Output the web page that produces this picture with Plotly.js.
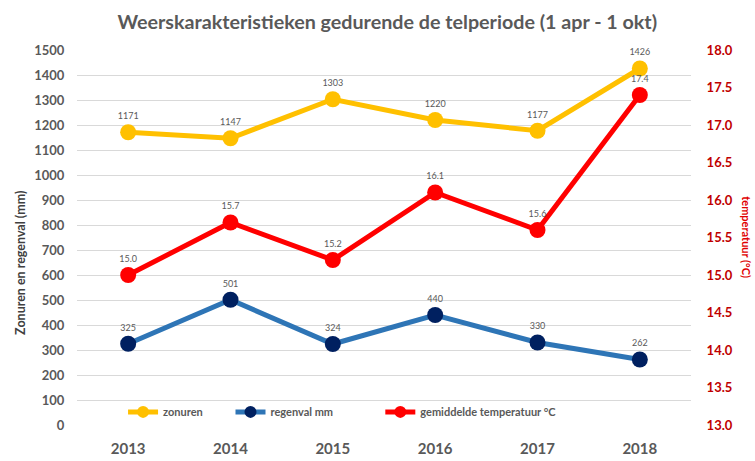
<!DOCTYPE html>
<html>
<head>
<meta charset="utf-8">
<script src="https://cdn.plot.ly/plotly-3.0.1.min.js"></script>
<style>
html,body{margin:0;padding:0;background:#fff;}
#chart{width:755px;height:461px;}
</style>
</head>
<body>
<div id="chart"></div>
<script>
const years = ['2013', '2014', '2015', '2016', '2017', '2018'];
const zonuren = [1171, 1147, 1303, 1220, 1177, 1426];
const regenval = [325, 501, 324, 440, 330, 262];
const temperatuur = [15.0, 15.7, 15.2, 16.1, 15.6, 17.4];
const leftTicks = [0, 100, 200, 300, 400, 500, 600, 700, 800, 900, 1000, 1100, 1200, 1300, 1400, 1500];
const rightTicks = [13.0, 13.5, 14.0, 14.5, 15.0, 15.5, 16.0, 16.5, 17.0, 17.5, 18.0];

const FONT = 'Lato, "Open Sans", sans-serif';
const GRAY = '#595959';
const labelFont = {family: FONT, size: 9, color: GRAY};

const traces = [
  {
    x: years, y: zonuren, name: 'zonuren', type: 'scatter', mode: 'lines+markers+text',
    line: {color: '#FFC000', width: 5}, marker: {color: '#FFC000', size: 16},
    text: zonuren.map(String), textposition: 'top center', textfont: labelFont,
    cliponaxis: false, legend: 'legend'
  },
  {
    x: years, y: regenval, name: 'regenval mm', type: 'scatter', mode: 'lines+markers+text',
    line: {color: '#2E75B6', width: 5}, marker: {color: '#002060', size: 16},
    text: regenval.map(String), textposition: 'top center', textfont: labelFont,
    cliponaxis: false, legend: 'legend2'
  },
  {
    x: years, y: temperatuur, name: 'gemiddelde temperatuur °C', type: 'scatter', mode: 'lines+markers+text',
    yaxis: 'y2',
    line: {color: '#FF0000', width: 5}, marker: {color: '#FF0000', size: 16},
    text: temperatuur.map(v => v.toFixed(1)), textposition: 'top center', textfont: labelFont,
    cliponaxis: false, legend: 'legend3'
  }
];

const legendBase = {
  orientation: 'h', yanchor: 'middle', y: 0.035, xanchor: 'left',
  bgcolor: 'rgba(0,0,0,0)', font: {family: FONT, size: 11, color: GRAY, weight: 'bold'},
  itemwidth: 30, itemsizing: 'constant', tracegroupgap: 0
};

const layout = {
  width: 755, height: 461,
  margin: {l: 77, r: 64, t: 50, b: 36},
  paper_bgcolor: '#ffffff', plot_bgcolor: '#ffffff',
  showlegend: true,
  title: {
    text: '<b>Weerskarakteristieken gedurende de telperiode (1 apr - 1 okt)</b>',
    font: {family: FONT, size: 19.7, color: GRAY},
    x: 0.513, xanchor: 'center', y: 0.952, yanchor: 'middle'
  },
  xaxis: {
    type: 'category', range: [-0.5, 5.5],
    showgrid: false, zeroline: false, showline: false,
    ticks: 'outside', ticklen: 10, tickcolor: 'rgba(0,0,0,0)',
    tickfont: {family: FONT, size: 15, color: GRAY, weight: 'bold'}
  },
  yaxis: {
    range: [0, 1500], tickvals: leftTicks,
    showgrid: true, gridcolor: '#d9d9d9', gridwidth: 1,
    zeroline: false, showline: false,
    ticks: 'outside', ticklen: 9, tickcolor: 'rgba(0,0,0,0)',
    tickfont: {family: FONT, size: 13, color: GRAY, weight: 'bold'}
  },
  yaxis2: {
    overlaying: 'y', side: 'right', range: [13, 18], tickvals: rightTicks,
    ticktext: rightTicks.map(v => v.toFixed(1)),
    showgrid: false, zeroline: false, showline: false,
    ticks: 'outside', ticklen: 12, tickcolor: 'rgba(0,0,0,0)',
    tickfont: {family: FONT, size: 13, color: '#C00000', weight: 'bold'}
  },
  legend: Object.assign({}, legendBase, {x: 0.075}),
  legend2: Object.assign({}, legendBase, {x: 0.25}),
  legend3: Object.assign({}, legendBase, {x: 0.494}),
  annotations: [
    {
      text: '<b>Zonuren en regenval (mm)</b>', textangle: -90,
      xref: 'paper', yref: 'paper', x: -0.092, y: 0.431,
      xanchor: 'center', yanchor: 'middle', showarrow: false,
      font: {family: FONT, size: 12.5, color: '#404040'}
    },
    {
      text: '<b>temperatuur (°C)</b>', textangle: 90,
      xref: 'paper', yref: 'paper', x: 1.09, y: 0.5,
      xanchor: 'center', yanchor: 'middle', showarrow: false,
      font: {family: FONT, size: 11, color: '#E00000'}
    }
  ]
};

Plotly.newPlot('chart', traces, layout, {displayModeBar: false, responsive: false});
</script>
</body>
</html>
